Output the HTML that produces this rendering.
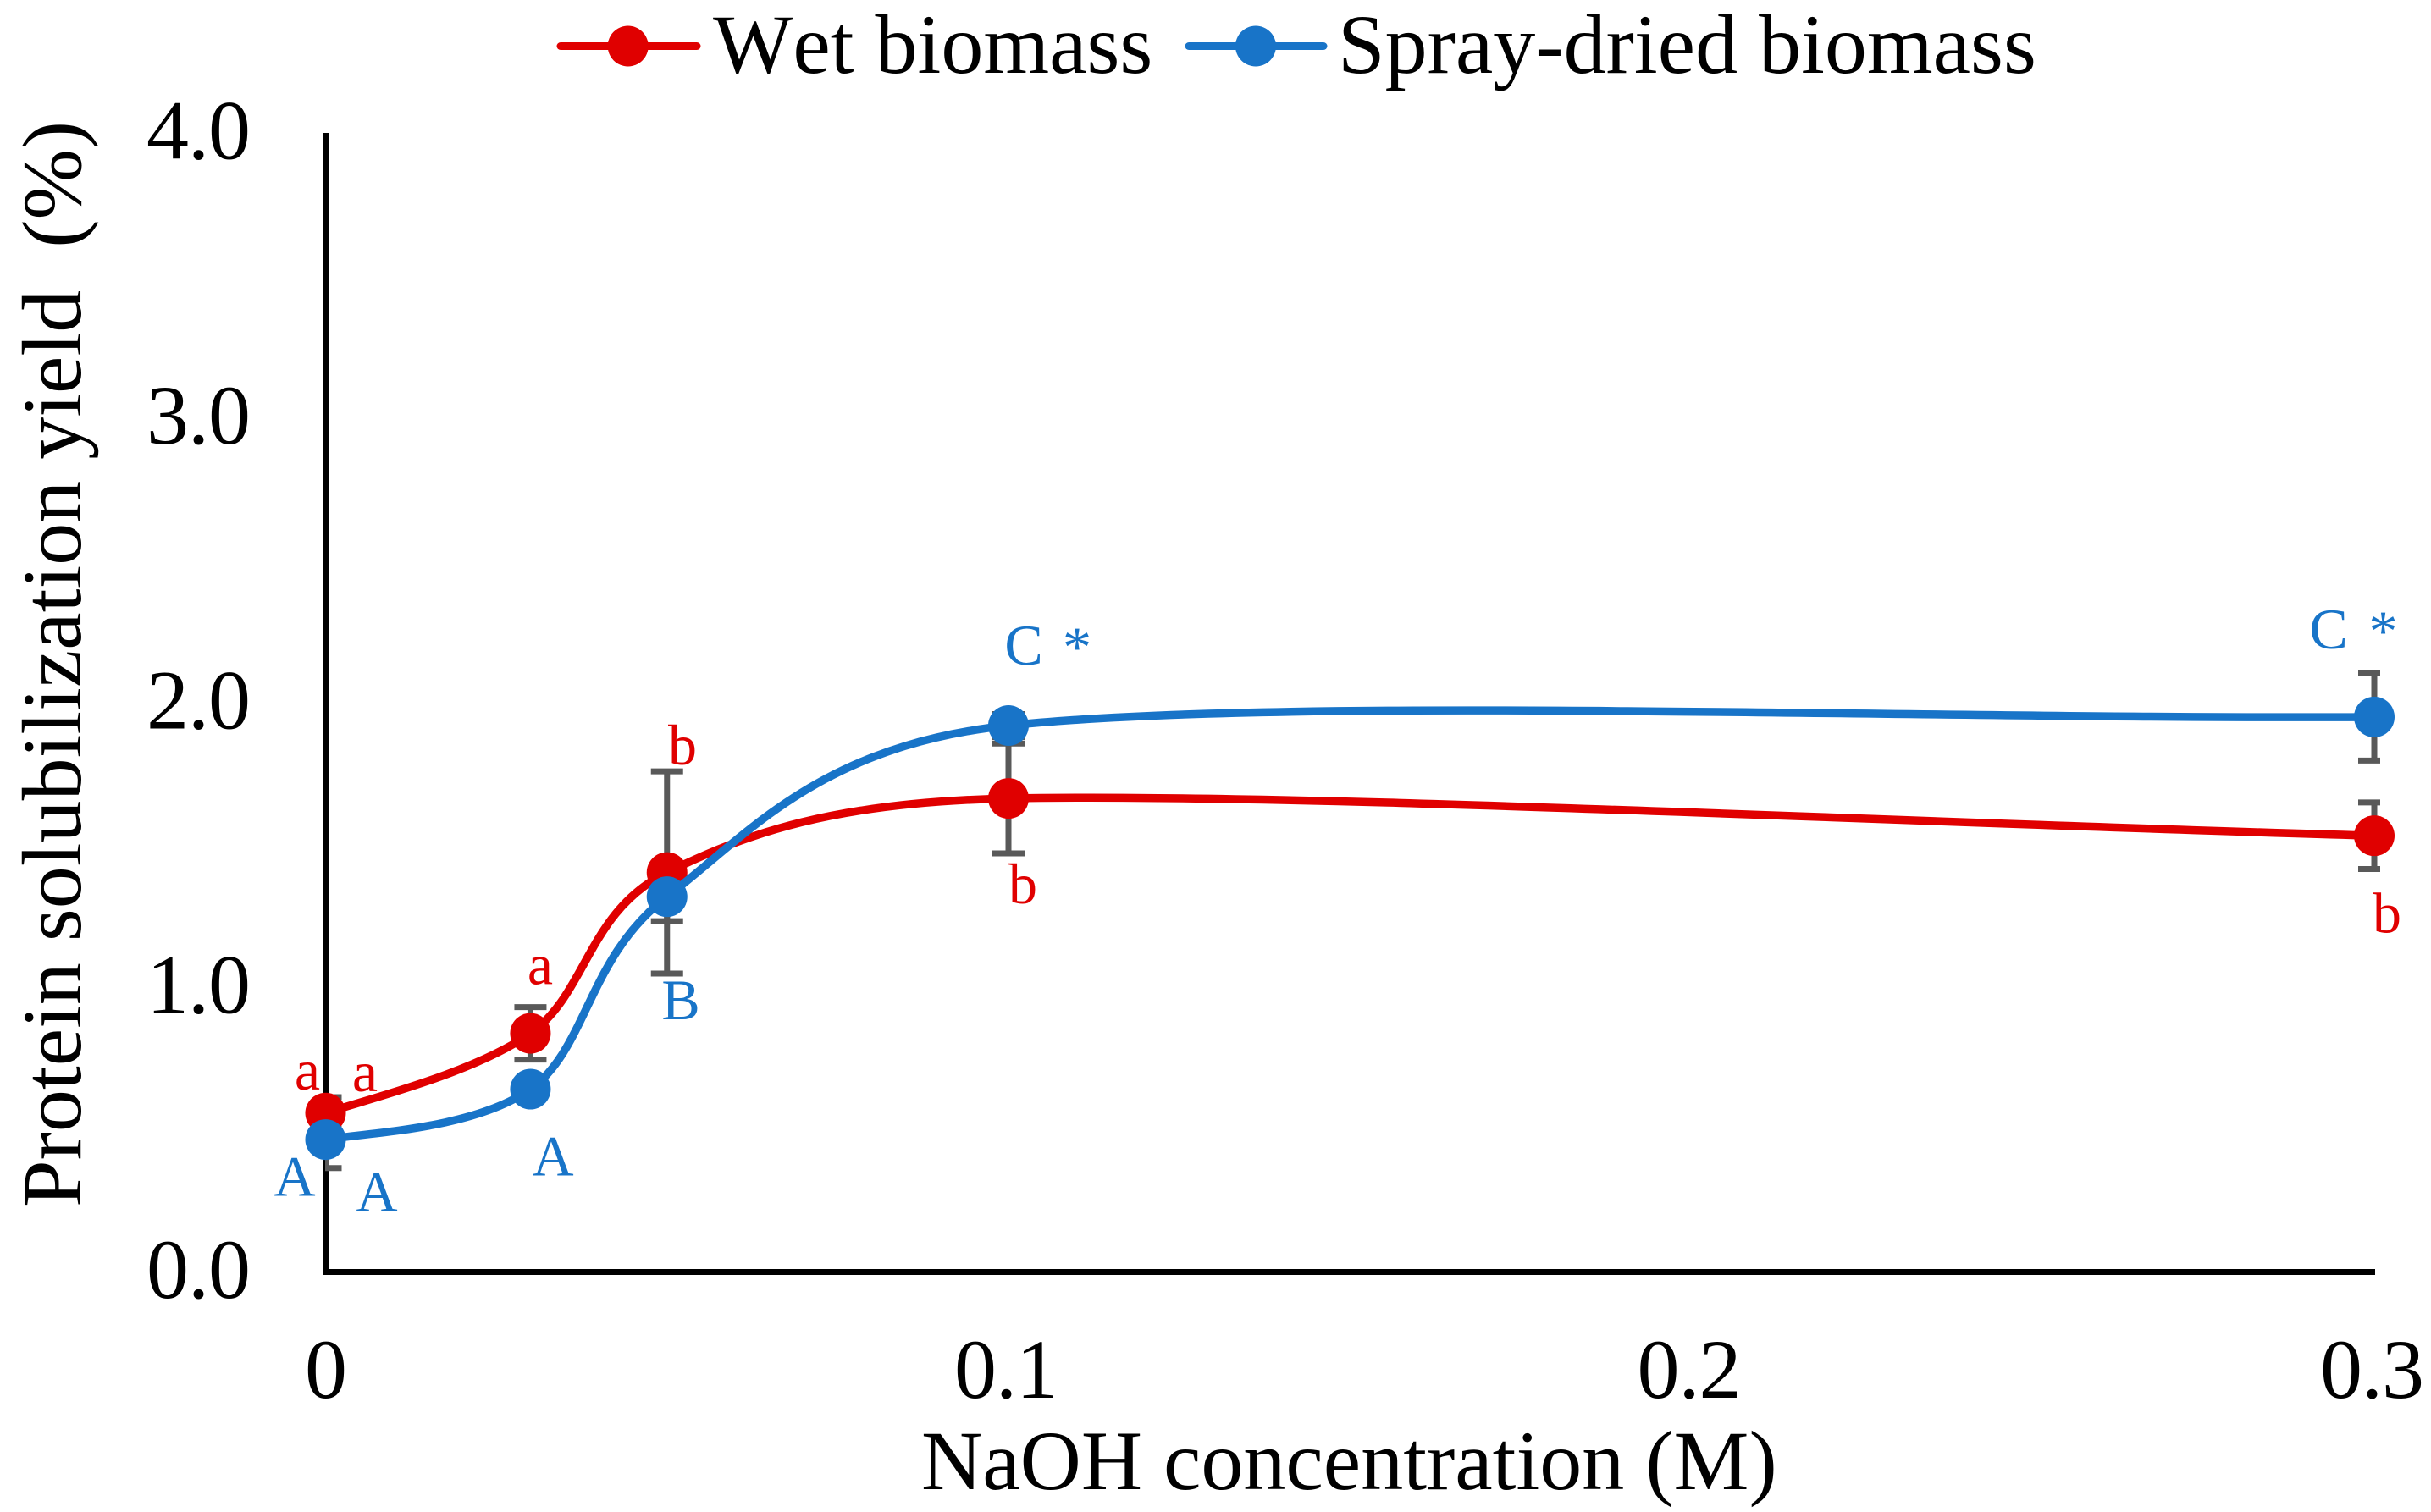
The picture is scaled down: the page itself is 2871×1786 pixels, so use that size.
<!DOCTYPE html>
<html lang="en">
<head>
<meta charset="utf-8">
<title>Protein solubilization yield vs NaOH concentration</title>
<style>
  html, body { margin: 0; padding: 0; background: #ffffff; }
  body { width: 2871px; height: 1786px; overflow: hidden; }
  svg { display: block; }
  text { font-family: "Liberation Serif", "Times New Roman", serif; font-kerning: none; }
  .big { font-size: 100px; fill: #000000; }
  .tick { letter-spacing: -1px; }
  .note { font-size: 68px; }
  .wet { fill: #e00000; }
  .spray { fill: #1874c8; }
</style>
</head>
<body>
<svg id="chart" xmlns="http://www.w3.org/2000/svg" width="2871" height="1786" viewBox="0 0 2871 1786">
  <rect x="0" y="0" width="2871" height="1786" fill="#ffffff"/>
  <defs>
    <clipPath id="plot-clip"><rect x="384" y="100" width="2427" height="1420"/></clipPath>
  </defs>

  <g id="x-tick-labels"></g>
  <g id="y-tick-labels"></g>

  <rect x="381" y="157" width="7" height="1349" fill="#000"/>
  <rect x="381" y="1499" width="2424" height="7" fill="#000"/>

  <g id="error-bars" clip-path="url(#plot-clip)"></g>
  <g id="wet-series"></g>
  <g id="spray-series"></g>

  <text class="big" x="1088" y="1759">NaOH concentration (M)</text>
  <text class="big" transform="translate(95,1426) rotate(-90)" xml:space="preserve" style="white-space:pre">Protein solubilization yield  (%)</text>

  <g>
    <g>
      <line x1="662" y1="54.5" x2="823" y2="54.5" stroke="#e00000" stroke-width="9" stroke-linecap="round"/>
      <circle cx="741.7" cy="54.5" r="24" fill="#e00000"/>
      <text class="big" x="842" y="86">Wet biomass</text>
    </g>
    <g>
      <line x1="1404" y1="54.5" x2="1563" y2="54.5" stroke="#1874c8" stroke-width="9" stroke-linecap="round"/>
      <circle cx="1483" cy="54.5" r="24" fill="#1874c8"/>
      <text class="big" x="1580" y="86">Spray-dried biomass</text>
    </g>
  </g>

  <g text-anchor="middle">
    <text class="note wet" x="363" y="1287">a</text>
    <text class="note wet" x="431" y="1289">a</text>
    <text class="note spray" x="348" y="1412.5">A</text>
    <text class="note spray" x="445" y="1430.5">A</text>
    <text class="note wet" x="638" y="1162.5">a</text>
    <text class="note spray" x="653" y="1388.5">A</text>
    <text class="note wet" x="806" y="903">b</text>
    <text class="note spray" x="804" y="1204">B</text>
    <text class="note spray" x="1209" y="785">C</text>
    <text class="note spray" x="1272" y="787">*</text>
    <text class="note wet" x="1208" y="1067">b</text>
    <text class="note spray" x="2750" y="766">C</text>
    <text class="note spray" x="2814.5" y="768">*</text>
    <text class="note wet" x="2819" y="1101.5">b</text>
  </g>
</svg>

<script>
// Chart data
const naohConcentrations = [0, 0.03, 0.05, 0.1, 0.3];
const wetYield = [0.558, 0.838, 1.403, 1.663, 1.532];
const sprayYield = [0.465, 0.642, 1.318, 1.919, 1.949];
const wetError = [0.056, 0.092, 0.355, 0.193, 0.117];
const sprayError = [0.100, 0.030, 0.086, 0.040, 0.153];
const xTickValues = [0, 0.1, 0.2, 0.3];
const xTickLabels = ["0", "0.1", "0.2", "0.3"];
const yTickValues = [0, 1, 2, 3, 4];
const yTickLabels = ["0.0", "1.0", "2.0", "3.0", "4.0"];

const SVG_NS = "http://www.w3.org/2000/svg";
const WET_COLOR = "#e00000";
const SPRAY_COLOR = "#1874c8";
const ERROR_COLOR = "#595959";

function xScale(v) { return 384.5 + v * (2804 - 384.5) / 0.3; }
function yScale(v) { return 1502.5 - v * (1502.5 - 157) / 4; }

function make(tag, attrs, parent) {
  const el = document.createElementNS(SVG_NS, tag);
  for (const key in attrs) el.setAttribute(key, attrs[key]);
  parent.appendChild(el);
  return el;
}

function dist(a, b) { return Math.hypot(b[0] - a[0], b[1] - a[1]); }

// Spreadsheet-style smoothed line through the points
function smoothPath(pts) {
  let d = "M" + pts[0][0] + " " + pts[0][1];
  const n = pts.length;
  for (let i = 0; i < n - 1; i++) {
    const p0 = i === 0 ? pts[0] : pts[i - 1];
    const p1 = pts[i];
    const p2 = pts[i + 1];
    const p3 = i === n - 2 ? pts[n - 1] : pts[i + 2];
    const d02 = dist(p0, p2), d12 = dist(p1, p2), d13 = dist(p1, p3);
    const f1 = i === 0 ? 1 / 3 : 1 / 6;
    const f2 = i === n - 2 ? 1 / 3 : 1 / 6;
    const k1 = d02 / 6 < d12 / 2 ? f1 : (d12 / 2) / d02;
    const k2 = d13 / 6 < d12 / 2 ? f2 : (d12 / 2) / d13;
    let c1 = [p1[0] + (p2[0] - p0[0]) * k1, p1[1] + (p2[1] - p0[1]) * k1];
    const c2 = [p2[0] - (p3[0] - p1[0]) * k2, p2[1] - (p3[1] - p1[1]) * k2];
    if (i === 0) {
      // free start: the opening tangent leans toward the incoming control point
      c1 = [
        p1[0] + 0.11 * ((c2[0] - p1[0]) + (p2[0] - p1[0])),
        p1[1] + 0.11 * ((c2[1] - p1[1]) + (p2[1] - p1[1]))
      ];
    }
    d += " C" + c1[0] + " " + c1[1] + " " + c2[0] + " " + c2[1] + " " + p2[0] + " " + p2[1];
  }
  return d;
}

function drawErrorBars(values, errors, seriesKey) {
  const group = document.getElementById("error-bars");
  values.forEach(function (value, i) {
    const x = xScale(naohConcentrations[i]);
    const top = yScale(value + errors[i]);
    const bottom = yScale(value - errors[i]);
    const stem = make("line", { x1: x, x2: x, y1: top, y2: bottom, stroke: ERROR_COLOR, "stroke-width": 7 }, group);
    
    
    const upper = make("line", { x1: x - 19, x2: x + 19, y1: top, y2: top, stroke: ERROR_COLOR, "stroke-width": 7 }, group);
    
    
    const lower = make("line", { x1: x - 19, x2: x + 19, y1: bottom, y2: bottom, stroke: ERROR_COLOR, "stroke-width": 7 }, group);
    
    
  });
}

function drawSeries(groupId, values, color, seriesKey) {
  const group = document.getElementById(groupId);
  const pts = values.map(function (value, i) {
    return [xScale(naohConcentrations[i]), yScale(value)];
  });
  const line = make("path", { d: smoothPath(pts), fill: "none", stroke: color, "stroke-width": 9.5, "stroke-linecap": "round" }, group);
  
  
  pts.forEach(function (pt) {
    const dot = make("circle", { cx: pt[0], cy: pt[1], r: 24, fill: color }, group);
    
    
  });
}

function drawTicks() {
  const xGroup = document.getElementById("x-tick-labels");
  xTickValues.forEach(function (value, i) {
    const shift = xTickLabels[i].length > 1 ? -3 : 0;
    const t = make("text", { class: "big tick", x: xScale(value) + shift, y: 1651, "text-anchor": "middle" }, xGroup);
    
    
    t.textContent = xTickLabels[i];
  });
  const yGroup = document.getElementById("y-tick-labels");
  yTickValues.forEach(function (value, i) {
    const t = make("text", { class: "big tick", x: 295, y: yScale(value) + 30.5, "text-anchor": "end" }, yGroup);
    
    
    t.textContent = yTickLabels[i];
  });
}

drawTicks();
drawErrorBars(wetYield, wetError, "wet");
drawErrorBars(sprayYield, sprayError, "spray");
drawSeries("wet-series", wetYield, WET_COLOR, "wet");
drawSeries("spray-series", sprayYield, SPRAY_COLOR, "spray");
</script>
</body>
</html>
